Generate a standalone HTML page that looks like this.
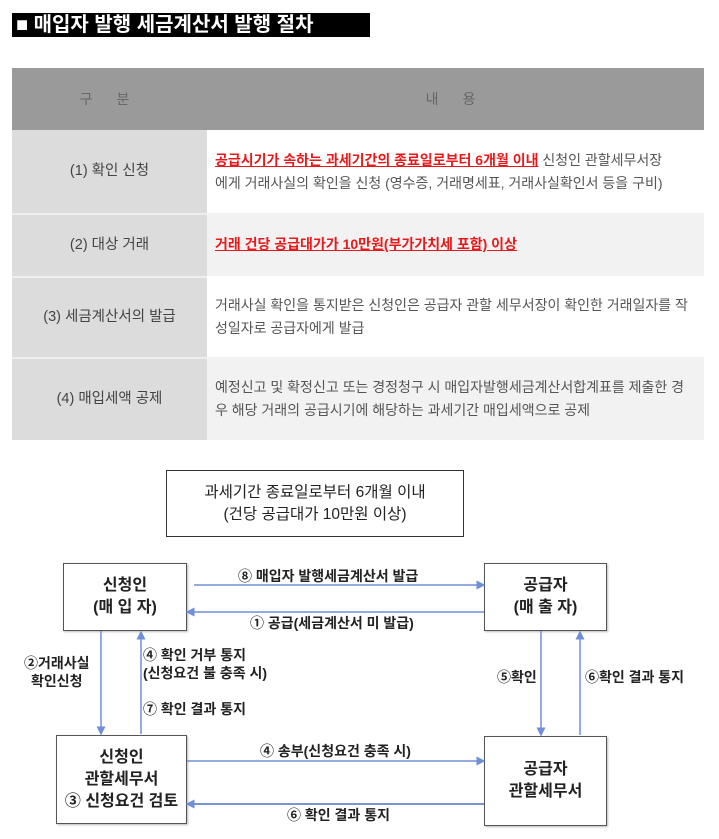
<!DOCTYPE html>
<html><head><meta charset="utf-8"><style>
body{margin:0;width:719px;height:839px;background:#fff;font-family:"Liberation Sans","Noto Sans CJK KR",sans-serif;position:relative;overflow:hidden}
.a{position:absolute}
.title{left:12px;top:13px;width:358px;height:24px;background:#000;color:#fff;font-size:20px;font-weight:bold;line-height:24px;padding-left:4px;box-sizing:border-box;white-space:nowrap}
.cell{position:absolute;display:flex;align-items:center;box-sizing:border-box;font-size:14px;color:#555;line-height:23px}
.l{left:12px;width:195px;justify-content:center;background:#dcdcdc;font-size:14.5px;color:#444}
.r{left:207px;width:497px;padding-left:8px;padding-right:14px}
.red{color:#e8191b;font-weight:bold;text-decoration:underline}
.box{position:absolute;border:1.5px solid #555;box-sizing:border-box;display:flex;align-items:center;justify-content:center;text-align:center;font-size:16px;font-weight:bold;color:#222;line-height:22px;box-shadow:1px 1px 2px #bbb}
.t{position:absolute;font-size:14px;font-weight:bold;color:#222;white-space:nowrap;line-height:18px}
</style></head><body>
<div class="a title">■ 매입자 발행 세금계산서 발행 절차</div>
<div class="cell" style="left:12px;top:68px;width:692px;height:62px;background:#9a9a9a"></div>
<div class="cell" style="left:12px;top:68px;width:195px;height:62px;justify-content:center;color:#666;letter-spacing:10px">구 분</div>
<div class="cell" style="left:207px;top:68px;width:497px;height:62px;justify-content:center;color:#666;letter-spacing:10px">내 용</div>
<div class="cell l" style="top:130px;height:83px">(1) 확인 신청</div>
<div class="cell r" style="top:130px;height:83px;background:#fff"><div><span class="red">공급시기가 속하는 과세기간의 종료일로부터 6개월 이내</span> 신청인 관할세무서장<br>에게 거래사실의 확인을 신청 (영수증, 거래명세표, 거래사실확인서 등을 구비)</div></div>
<div class="cell l" style="top:213px;height:63px;border-top:2px solid #eee">(2) 대상 거래</div>
<div class="cell r" style="top:213px;height:63px;background:#f2f2f2"><span class="red">거래 건당 공급대가가 10만원(부가가치세 포함) 이상</span></div>
<div class="cell l" style="top:276px;height:81px;border-top:2px solid #eee">(3) 세금계산서의 발급</div>
<div class="cell r" style="top:276px;height:81px;background:#fff"><div>거래사실 확인을 통지받은 신청인은 공급자 관할 세무서장이 확인한 거래일자를 작<br>성일자로 공급자에게 발급</div></div>
<div class="cell l" style="top:357px;height:83px;border-top:2px solid #eee">(4) 매입세액 공제</div>
<div class="cell r" style="top:357px;height:83px;background:#f2f2f2"><div>예정신고 및 확정신고 또는 경정청구 시 매입자발행세금계산서합계표를 제출한 경<br>우 해당 거래의 공급시기에 해당하는 과세기간 매입세액으로 공제</div></div>

<div class="box" style="left:166px;top:470px;width:298px;height:67px;font-weight:normal;font-size:15.5px;border-color:#333;box-shadow:none">과세기간 종료일로부터 6개월 이내<br>(건당 공급대가 10만원 이상)</div>
<div class="box" style="left:63px;top:563px;width:124px;height:68px">신청인<br>(매 입 자)</div>
<div class="box" style="left:484px;top:563px;width:123px;height:68px">공급자<br>(매 출 자)</div>
<div class="box" style="left:56px;top:735px;width:131px;height:89px">신청인<br>관할세무서<br>③ 신청요건 검토</div>
<div class="box" style="left:484px;top:736px;width:123px;height:90px">공급자<br>관할세무서</div>

<svg class="a" style="left:0;top:0" width="719" height="839">
<defs><marker id="m" markerWidth="6" markerHeight="6" refX="5" refY="3" orient="auto"><path d="M0,0 L6,3 L0,6z" fill="#6f8fd8"/></marker></defs>
<g stroke="#6f8fd8" stroke-width="1.5" fill="none" marker-end="url(#m)">
<line x1="194" y1="585" x2="484" y2="585"/>
<line x1="484" y1="612" x2="187" y2="612"/>
<line x1="101" y1="631" x2="101" y2="734"/>
<line x1="141" y1="734" x2="141" y2="632"/>
<line x1="541" y1="631" x2="541" y2="735"/>
<line x1="580" y1="735" x2="580" y2="632"/>
<line x1="187" y1="761" x2="484" y2="761"/>
<line x1="484" y1="804" x2="187" y2="804" stroke="#4a72c8"/>
</g></svg>
<div class="t" style="left:238px;top:567px">⑧ 매입자 발행세금계산서 발급</div>
<div class="t" style="left:250px;top:614px">① 공급(세금계산서 미 발급)</div>
<div class="t" style="left:24px;top:654px;text-align:center">②거래사실<br>확인신청</div>
<div class="t" style="left:143px;top:646px">④ 확인 거부 통지<br>(신청요건 불 충족 시)</div>
<div class="t" style="left:143px;top:700px">⑦ 확인 결과 통지</div>
<div class="t" style="left:497px;top:668px">⑤확인</div>
<div class="t" style="left:585px;top:668px">⑥확인 결과 통지</div>
<div class="t" style="left:260px;top:742px">④ 송부(신청요건 충족 시)</div>
<div class="t" style="left:287px;top:806px">⑥ 확인 결과 통지</div>
</body></html>
